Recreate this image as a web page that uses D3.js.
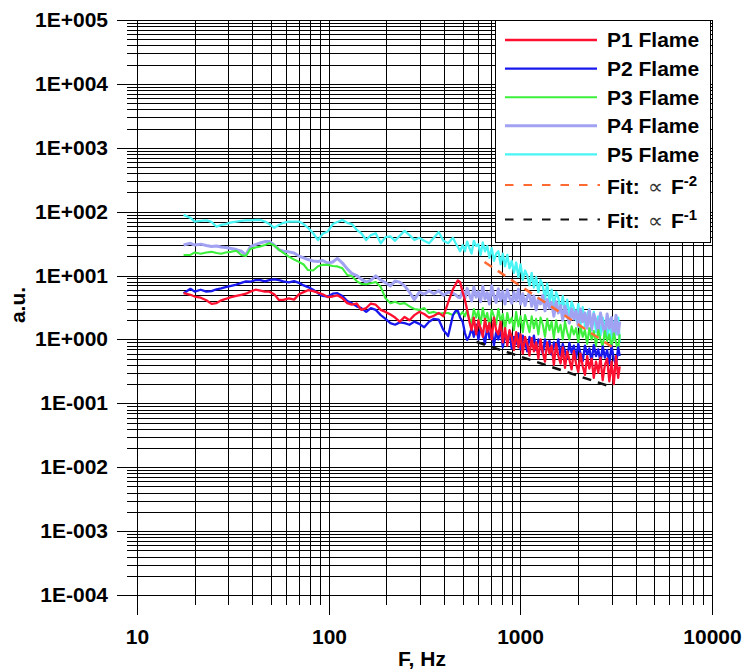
<!DOCTYPE html>
<html>
<head>
<meta charset="utf-8">
<script src="https://cdn.jsdelivr.net/npm/d3@7/dist/d3.min.js"></script>
<style>
  html, body { margin: 0; padding: 0; background: #fff; }
  svg text { font-family: "Liberation Sans", Arial, Helvetica, sans-serif; }
</style>
</head>
<body>
<svg id="chart" width="745" height="672"></svg>
<script>
// Frequency grid shared by the five flame spectra (Hz)
const freqHz = [17.5, 19, 20, 21.5, 23, 24.5, 26, 27.5, 29, 31, 33, 35, 37, 39, 41.5, 44, 46.5, 49, 52, 55,
  58, 62, 66, 70, 74, 78, 83, 88, 93, 99, 105, 111, 118, 125, 132, 140, 148, 157, 166, 176,
  187, 198, 210, 222, 235, 249, 264, 280, 297, 315, 334, 354, 375, 397, 420, 445, 460, 472, 485,
  500, 514, 528, 542, 557, 572, 588, 604, 620, 637, 654, 672, 690, 709, 728, 748, 768, 789, 810,
  832, 855, 878, 902, 926, 951, 977, 1003, 1030, 1058, 1087, 1116, 1146, 1177, 1209, 1242, 1275,
  1310, 1345, 1381, 1419, 1457, 1496, 1537, 1578, 1621, 1665, 1710, 1756, 1803, 1852, 1902, 1953,
  2006, 2060, 2116, 2173, 2232, 2292, 2354, 2417, 2483, 2550, 2619, 2689, 2762, 2837, 2913, 2992,
  3073, 3156, 3241, 3300];

// Spectral amplitude of each flame (a.u.)
const p1Flame = [5.3, 5.0, 4.7, 4.5, 4.1, 3.6, 3.7, 4.1, 4.3, 4.6, 4.8, 5.0, 5.2, 5.6, 6.0, 5.8, 5.6, 5.6, 5.1, 4.15,
  4.15, 4.4, 4.2, 5.1, 5.5, 5.9, 5.7, 5.4, 5.1, 4.6, 4.7, 4.9, 4.4, 3.7, 3.5, 3.65, 2.9, 3.1, 3.65, 3.5,
  2.9, 2.7, 2.45, 2.2, 1.9, 2.25, 2.0, 2.4, 2.7, 2.5, 2.2, 2.35, 2.6, 2.3, 3.8, 6.1, 7.3, 8.4, 7.9,
  5.5, 4.15, 2.9, 1.9, 1.4, 2.2, 1.2, 2.0, 1.5, 1.1, 2.1, 1.3, 1.8, 1.0, 2.2, 1.4, 1.2, 1.9, 0.9,
  1.5, 0.8, 1.4, 1.1, 0.68, 1.3, 0.75, 1.2, 0.6, 1.1, 0.85, 0.56, 1.05, 0.65, 0.9, 0.5, 1.0, 0.62,
  0.45, 0.9, 0.6, 0.8, 0.4, 0.85, 0.55, 0.42, 0.75, 0.36, 0.65, 0.48, 0.34, 0.66, 0.42, 0.31, 0.6,
  0.38, 0.28, 0.55, 0.35, 0.5, 0.25, 0.45, 0.3, 0.52, 0.23, 0.4, 0.5, 0.22, 0.45, 0.2, 0.55, 0.25, 0.38];

const p2Flame = [5.3, 6.2, 5.6, 6.0, 5.6, 5.7, 6.1, 6.3, 6.6, 6.9, 7.2, 7.7, 8.1, 8.0, 8.5, 8.5, 8.1, 8.5, 8.7, 8.5,
  8.1, 7.8, 8.2, 7.7, 7.0, 6.6, 6.0, 5.3, 4.8, 4.7, 5.2, 5.3, 4.8, 4.0, 3.7, 3.3, 3.1, 2.7, 3.1, 2.9,
  2.4, 2.1, 1.8, 1.7, 1.85, 1.8, 1.7, 1.9, 1.75, 1.55, 1.9, 2.1, 2.05, 1.4, 1.13, 2.4, 2.8, 2.8, 2.2,
  1.9, 1.26, 0.98, 1.13, 1.5, 1.1, 1.7, 1.0, 1.5, 1.25, 0.85, 1.6, 1.05, 1.4, 0.8, 1.3, 1.0, 1.45,
  0.75, 1.2, 0.95, 1.3, 0.72, 1.1, 0.85, 1.25, 0.7, 1.15, 0.9, 0.65, 1.1, 0.8, 1.15, 0.68, 1.0, 0.85,
  0.6, 1.0, 0.75, 0.95, 0.58, 0.9, 0.7, 1.0, 0.56, 0.85, 0.65, 0.5, 0.88, 0.62, 0.8, 0.5, 0.85, 0.6,
  0.46, 0.8, 0.58, 0.72, 0.45, 0.82, 0.55, 0.7, 0.44, 0.78, 0.52, 0.68, 0.42, 0.8, 0.5, 0.4, 0.75, 0.55];

const p3Flame = [21, 21, 23, 22, 23, 23.5, 22.5, 22, 23, 23.5, 24.5, 21, 20.2, 26, 27.5, 28.5, 30, 32, 29.5, 25.5,
  22.6, 19.8, 17.8, 16.4, 14.9, 12.2, 12, 14, 14.7, 14.7, 14.1, 13.9, 13, 10.2, 9.8, 8.2, 7.4, 7.3, 7.6, 7.9,
  6.6, 4.4, 3.7, 3.9, 3.6, 3.7, 3.3, 3.0, 2.9, 3.1, 2.6, 2.7, 2.5, 2.6, 2.6, 2.4, 2.7, 2.6, 2.4,
  2.7, 2.3, 2.9, 2.1, 1.8, 3.0, 2.2, 2.8, 1.7, 3.1, 2.0, 2.6, 1.6, 2.9, 2.3, 1.7, 3.0, 1.9, 2.5,
  1.4, 2.6, 1.8, 2.2, 1.4, 2.7, 1.6, 2.3, 1.3, 2.4, 1.8, 1.3, 2.3, 1.5, 2.1, 1.2, 2.2, 1.7, 1.1,
  2.1, 1.4, 1.9, 1.05, 2.0, 1.3, 1.7, 1.0, 1.9, 1.3, 1.0, 1.6, 1.2, 1.5, 0.9, 1.6, 1.1, 1.4, 0.85,
  1.5, 1.0, 1.35, 0.8, 1.4, 1.0, 0.78, 1.35, 0.95, 1.2, 0.75, 1.25, 0.9, 0.68, 1.2];

const p4Flame = [30, 32, 30, 31, 29.5, 28.5, 29, 28, 27.5, 26.5, 25.5, 24, 21, 28, 30.5, 32.4, 34, 34, 30, 25.5,
  24, 23.5, 22.6, 20.2, 18.9, 17.8, 16.9, 16.6, 17.2, 15.7, 16.3, 18.6, 15.7, 12.7, 10.8, 10.0, 8.8, 7.9, 8.5, 9.9,
  8.5, 7.7, 6.9, 8.2, 7.9, 6.9, 5.5, 4.2, 5.5, 5.1, 5.8, 5.2, 5.8, 4.9, 5.5, 5.3, 5.0, 4.6, 4.5,
  5.8, 4.4, 6.3, 5.0, 4.0, 6.6, 4.6, 5.6, 3.9, 6.8, 4.3, 5.4, 3.6, 6.9, 4.8, 3.8, 6.2, 4.1, 5.7,
  3.6, 6.0, 4.5, 3.7, 5.5, 4.0, 6.1, 3.6, 5.2, 3.4, 4.6, 5.4, 3.3, 4.8, 2.9, 4.4, 3.6, 4.9, 2.8,
  4.2, 3.1, 3.8, 2.3, 3.9, 2.6, 3.4, 2.0, 3.3, 2.4, 1.8, 3.0, 2.1, 2.8, 1.6, 3.0, 1.9, 2.6, 1.5,
  2.9, 1.4, 2.5, 2.0, 1.3, 2.6, 1.7, 1.1, 2.5, 1.5, 2.2, 1.0, 2.4, 1.2, 1.9];

const p5Flame = [89, 80, 70, 72, 73, 69, 58, 62, 64, 68, 70, 72, 73, 73, 74, 74, 70, 64, 56, 62,
  67, 70, 70, 70, 64, 56, 46, 36, 45, 49, 64, 69, 74, 67, 64, 52, 46, 36, 43, 46,
  32, 40, 41, 35, 42, 50, 43, 36, 39, 35, 32, 39, 48, 35, 32, 39, 32, 28, 24,
  30, 24, 34, 27, 22, 35, 29, 31, 21, 33, 24, 29, 19, 27, 17, 22, 24, 15, 22,
  14, 21, 13, 17, 11, 16, 9.5, 15, 8.5, 12, 10, 7.0, 11, 6.5, 9.5, 5.5, 8.5, 7.0, 4.2,
  7.5, 3.8, 6.0, 3.2, 5.5, 4.5, 2.8, 4.8, 2.6, 4.2, 2.3, 3.9, 3.1, 2.0, 3.6, 1.7, 3.2, 1.6,
  2.4, 3.0, 1.4, 2.7, 1.3, 2.3, 1.15, 2.2, 1.6, 1.0, 2.1, 0.95, 1.9, 1.2, 2.2, 0.9];

const seriesLabels = ["P1 Flame", "P2 Flame", "P3 Flame", "P4 Flame", "P5 Flame"];
const seriesColors = ["#ff1030", "#1818ee", "#3cf03c", "#a2a2f2", "#48f4f4"];
const seriesWidths = [2.3, 2.3, 2.1, 3, 2.3];

// Power-law guide lines, given by their end points (Hz, a.u.)
const fitF2Hz = [650, 3050];
const fitF2Val = [16.3, 0.742];
const fitF1Hz = [590, 3050];
const fitF1Val = [0.915, 0.177];
const fitColors = ["#ff6a33", "#111111"];
const fitExponents = ["-2", "-1"];

const W = 745, H = 672;
const plot = { left: 137, right: 712, top: 20, bottom: 595 };

const x = d3.scaleLog().domain([10, 10000]).range([plot.left, plot.right]);
const y = d3.scaleLog().domain([1e-4, 1e5]).range([plot.bottom, plot.top]);
// pixel-snapped copies for the grid and ticks
const xr = x.copy().interpolate(d3.interpolateRound);
const yr = y.copy().interpolate(d3.interpolateRound);

const svg = d3.select("#chart");
svg.append("rect").attr("width", W).attr("height", H).attr("fill", "#fff");

const isDecade = v => Math.abs(Math.log10(v) - Math.round(Math.log10(v))) < 1e-6;
const xAll = xr.ticks(), yAll = yr.ticks();
const xMinor = xAll.filter(v => !isDecade(v)), xMajor = xAll.filter(isDecade);
const yMinor = yAll.filter(v => !isDecade(v)), yMajor = yAll.filter(isDecade);

const yFormat = v => {
  const e = Math.round(Math.log10(v));
  return "1E" + (e < 0 ? "-" : "+") + String(Math.abs(e)).padStart(3, "0");
};

function styleAxis(g) {
  g.select(".domain").remove();
  g.selectAll(".tick line").attr("stroke", "#000").attr("stroke-width", 1)
    .attr("shape-rendering", "crispEdges");
  g.selectAll(".tick text").attr("font-size", 21).attr("font-weight", "bold").attr("fill", "#000");
}

// vertical grid + ticks
svg.append("g").attr("transform", `translate(0,${plot.bottom})`)
  .call(d3.axisBottom(xr).tickValues(xAll).tickSize(-(plot.bottom - plot.top)).tickFormat(""))
  .call(styleAxis);
svg.append("g").attr("transform", `translate(0,${plot.bottom})`)
  .call(d3.axisBottom(xr).tickValues(xMinor).tickSize(10).tickFormat(""))
  .call(styleAxis);
svg.append("g").attr("transform", `translate(0,${plot.bottom})`)
  .call(d3.axisBottom(xr).tickValues(xMajor).tickSize(20).tickPadding(14).tickFormat(d3.format("d")))
  .call(styleAxis);

// horizontal grid + ticks
svg.append("g").attr("transform", `translate(${plot.left},0)`)
  .call(d3.axisLeft(yr).tickValues(yAll).tickSize(-(plot.right - plot.left)).tickFormat(""))
  .call(styleAxis);
svg.append("g").attr("transform", `translate(${plot.left},0)`)
  .call(d3.axisLeft(yr).tickValues(yMinor).tickSize(10).tickFormat(""))
  .call(styleAxis);
svg.append("g").attr("transform", `translate(${plot.left},0)`)
  .call(d3.axisLeft(yr).tickValues(yMajor).tickSize(20).tickPadding(9).tickFormat(yFormat))
  .call(styleAxis);

// spectra (P5 drawn first, P1 on top)
const line = d3.line().x(d => x(d[0])).y(d => y(d[1]));
const seriesValues = [p1Flame, p2Flame, p3Flame, p4Flame, p5Flame];
for (let i = seriesValues.length - 1; i >= 0; i--) {
  svg.append("path")
    .datum(d3.zip(freqHz, seriesValues[i]))
    .attr("d", line)
    .attr("fill", "none")
    .attr("stroke", seriesColors[i])
    .attr("stroke-width", seriesWidths[i])
    .attr("stroke-linejoin", "round");
}

// power-law guides
[[fitF2Hz, fitF2Val], [fitF1Hz, fitF1Val]].forEach(([fx, fv], i) => {
  svg.append("path")
    .datum(d3.zip(fx, fv))
    .attr("d", line)
    .attr("fill", "none")
    .attr("stroke", fitColors[i])
    .attr("stroke-width", 2.5)
    .attr("stroke-dasharray", "9,7");
});

// legend
const lg = svg.append("g");
lg.append("rect").attr("x", 495.5).attr("y", 20.5).attr("width", 215).attr("height", 222)
  .attr("fill", "#fff").attr("stroke", "#000").attr("stroke-width", 1);
seriesLabels.forEach((label, i) => {
  const ly = 40 + i * 28.6;
  lg.append("line").attr("x1", 505).attr("x2", 597).attr("y1", ly).attr("y2", ly)
    .attr("stroke", seriesColors[i]).attr("stroke-width", seriesWidths[i]);
  lg.append("text").attr("x", 607).attr("y", ly + 7.4)
    .attr("font-size", 21).attr("font-weight", "bold").attr("fill", "#000").text(label);
});
fitExponents.forEach((ex, i) => {
  const ly = 185 + i * 34.5;
  lg.append("line").attr("x1", 505).attr("x2", 600).attr("y1", ly).attr("y2", ly)
    .attr("stroke", fitColors[i]).attr("stroke-width", 2.2).attr("stroke-dasharray", "8.5,10");
  const t = lg.append("text").attr("y", ly + 8.6).attr("font-size", 21).attr("font-weight", "bold")
    .attr("fill", "#000");
  t.append("tspan").attr("x", 607).text("Fit:");
  t.append("tspan").attr("x", 648).attr("font-family", "DejaVu Sans").attr("font-weight", "normal")
    .attr("font-size", 21).attr("fill", "#333").text("\u221D");
  t.append("tspan").attr("x", 671).text("F");
  t.append("tspan").attr("dy", -8).attr("font-size", 15).text(ex);
});

// axis titles
svg.append("text").attr("transform", "translate(25,305) rotate(-90)")
  .attr("text-anchor", "middle").attr("font-size", 21).attr("font-weight", "bold").text("a.u.");
svg.append("text").attr("x", 422).attr("y", 666)
  .attr("text-anchor", "middle").attr("font-size", 21).attr("font-weight", "bold").text("F, Hz");
</script>
</body>
</html>
